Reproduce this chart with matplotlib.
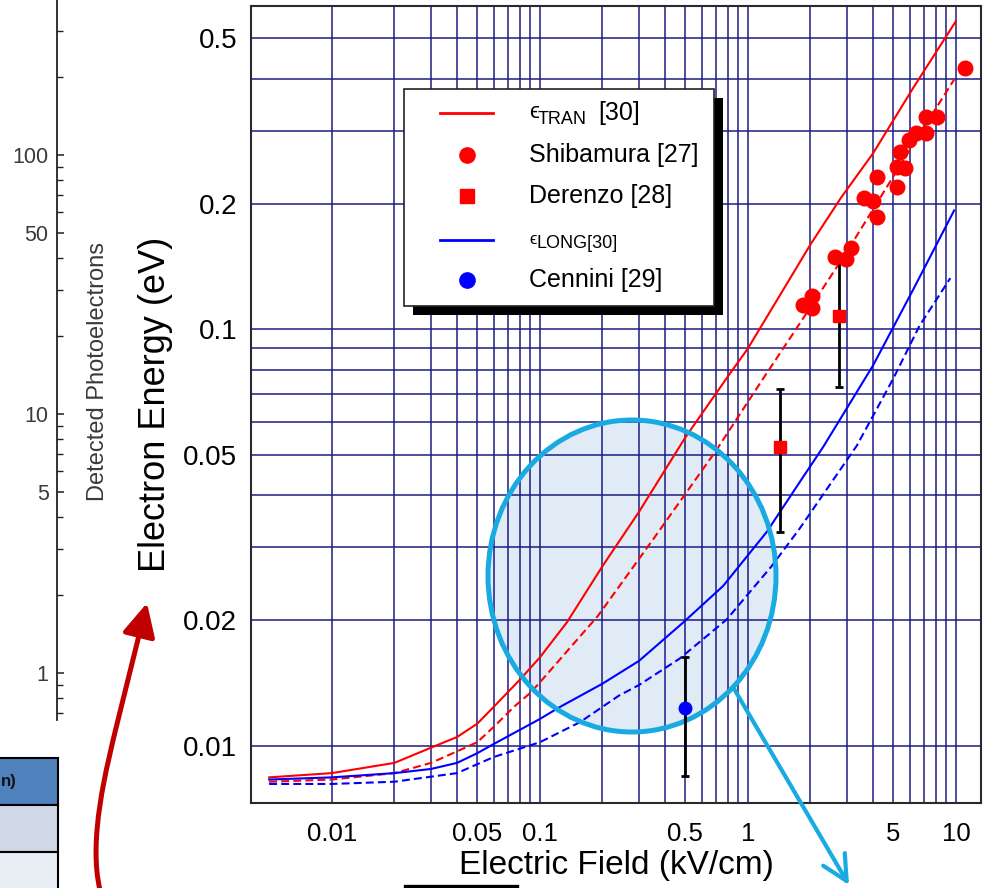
import matplotlib
matplotlib.use("Agg")
import matplotlib.pyplot as plt
from matplotlib.patches import Ellipse, Rectangle, FancyArrowPatch
from matplotlib.path import Path
from matplotlib.lines import Line2D
from matplotlib.ticker import FixedLocator, FixedFormatter, NullFormatter

plt.rcParams['font.family'] = ['Liberation Sans', 'DejaVu Sans']

# --- mean electron energy vs drift field -----------------------------------
# transverse energy, solid and dashed model curves
tran_field = [0.005, 0.01, 0.02, 0.03, 0.04, 0.05, 0.06, 0.08, 0.1, 0.135,
              0.2, 0.3, 0.5, 0.8, 1.0, 2.0, 2.8, 4.0, 6.25, 10.0]
tran_energy = [0.0084, 0.0086, 0.0091, 0.0099, 0.0105, 0.0113, 0.0124, 0.0144,
               0.0163, 0.0198, 0.027, 0.0365, 0.055, 0.077, 0.09, 0.16, 0.207,
               0.265, 0.381, 0.55]

tran_alt_field = [0.005, 0.01, 0.02, 0.03, 0.04, 0.05, 0.06, 0.075, 0.09, 0.1,
                  0.19, 0.35, 0.7, 1.18, 1.7, 3.0, 6.25, 9.8]
tran_alt_energy = [0.0082, 0.0083, 0.0086, 0.0091, 0.0097, 0.0102, 0.0111,
                   0.0124, 0.0134, 0.0142, 0.0205, 0.0313, 0.051, 0.076, 0.1,
                   0.154, 0.279, 0.398]

# longitudinal energy, solid and dashed model curves
long_field = [0.005, 0.01, 0.02, 0.03, 0.04, 0.05, 0.06, 0.1, 0.125, 0.2, 0.3,
              0.49, 0.76, 1.23, 1.77, 2.3, 4.0, 6.25, 9.8]
long_energy = [0.0083, 0.0084, 0.0086, 0.0088, 0.0091, 0.0096, 0.0101, 0.0116,
               0.0124, 0.0141, 0.016, 0.0198, 0.0242, 0.0326, 0.0429, 0.0522,
               0.082, 0.125, 0.193]

long_alt_field = [0.005, 0.01, 0.02, 0.04, 0.06, 0.1, 0.156, 0.24, 0.3, 0.47,
                  0.79, 1.3, 1.77, 3.34, 5.0, 6.7, 9.4]
long_alt_energy = [0.0081, 0.0081, 0.0082, 0.0086, 0.0094, 0.0102, 0.0114,
                   0.0132, 0.014, 0.0162, 0.0201, 0.027, 0.0332, 0.0526, 0.0762,
                   0.1023, 0.1328]

# measurements
shib_field = [1.84, 2.03, 2.03, 2.62, 2.95, 3.12, 3.62, 4.0, 4.18, 4.18, 5.19,
              5.19, 5.38, 5.67, 5.97, 6.44, 7.2, 7.2, 8.09, 11.0]
shib_energy = [0.1146, 0.1202, 0.1125, 0.1496, 0.148, 0.1565, 0.207, 0.2034,
               0.2328, 0.186, 0.2457, 0.22, 0.2673, 0.244, 0.2852, 0.2958,
               0.2958, 0.3245, 0.3245, 0.424]

derenzo_field = [1.42, 2.75]
derenzo_energy = [0.0522, 0.1075]
derenzo_low = [0.0326, 0.0727]
derenzo_high = [0.0718, 0.146]

cennini_field = [0.5]
cennini_energy = [0.0123]
cennini_low = [0.00847]
cennini_high = [0.0163]

# axis ticks
x_ticks = [0.01, 0.05, 0.1, 0.5, 1, 5, 10]
x_labels = ['0.01', '0.05', '0.1', '0.5', '1', '5', '10']
y_ticks = [0.01, 0.02, 0.05, 0.1, 0.2, 0.5]
y_labels = ['0.01', '0.02', '0.05', '0.1', '0.2', '0.5']

photo_ticks = [1, 5, 10, 50, 100]
photo_labels = ['1', '5', '10', '50', '100']

GRID = '#1c1c84'
RED = '#ff0000'
BLUE = '#0000ff'
CYAN = '#19aae2'


def px(x, y):
    """image pixel (from top-left) -> inches for fig.dpi_scale_trans"""
    return x / 100.0, (888 - y) / 100.0


fig = plt.figure(figsize=(9.9, 8.88), dpi=100)
inch = fig.dpi_scale_trans

# ---------------------------------------------------------------------------
# main log-log panel
ax = fig.add_axes([251 / 990, 85 / 888, 730 / 990, 797 / 888])
ax.set_xscale('log')
ax.set_yscale('log')
ax.set_xlim(0.00409, 13.2)
ax.set_ylim(0.00729, 0.598)

grid_x = [k * 10.0 ** n for n in (-2, -1, 0) for k in range(1, 10)] + [10]
grid_y = [k * 10.0 ** n for n in (-2,) for k in range(1, 10)] + \
         [k * 0.1 for k in range(1, 6)]
ax.xaxis.set_major_locator(FixedLocator(x_ticks))
ax.xaxis.set_major_formatter(FixedFormatter(x_labels))
ax.xaxis.set_minor_locator(FixedLocator(grid_x))
ax.xaxis.set_minor_formatter(NullFormatter())
ax.yaxis.set_major_locator(FixedLocator(y_ticks))
ax.yaxis.set_major_formatter(FixedFormatter(y_labels))
ax.yaxis.set_minor_locator(FixedLocator(grid_y))
ax.yaxis.set_minor_formatter(NullFormatter())
ax.tick_params(which='both', length=0)
ax.tick_params(axis='x', labelsize=18.5, pad=13.5)
ax.tick_params(axis='y', labelsize=20, pad=10)
ax.set_axisbelow(True)
ax.grid(which='both', color=GRID, lw=1.1)
for sp in ax.spines.values():
    sp.set_color('#2a2a2a')
    sp.set_linewidth(1.5)

ax.set_xlabel('Electric Field (kV/cm)', fontsize=24, va='center')
ax.xaxis.set_label_coords(0.5, -0.079)
ax.set_ylabel('Electron Energy (eV)', fontsize=26, va='center')
ax.yaxis.set_label_coords(-0.1315, 0.5)

# highlighted low-field region
ax.add_patch(Ellipse(px(632, 576), 2.88, 3.12, transform=inch,
                     facecolor='#e0ebf6', edgecolor='none', zorder=0.3))

dash = (0, (3.8, 2.0))
ax.plot(tran_field, tran_energy, color=RED, lw=1.5, zorder=2)
ax.plot(tran_alt_field, tran_alt_energy, color=RED, lw=1.5, ls=dash, zorder=2)
ax.plot(long_field, long_energy, color=BLUE, lw=1.5, zorder=2)
ax.plot(long_alt_field, long_alt_energy, color=BLUE, lw=1.5, ls=dash, zorder=2)

ax.add_patch(Ellipse(px(632, 576), 2.88, 3.12, transform=inch,
                     facecolor='none', edgecolor=CYAN, lw=3.6, zorder=3))


def yerr(vals, lo, hi):
    return [[v - l for v, l in zip(vals, lo)], [h - v for v, h in zip(vals, hi)]]


ax.errorbar(derenzo_field, derenzo_energy,
            yerr=yerr(derenzo_energy, derenzo_low, derenzo_high),
            fmt='none', ecolor='black', elinewidth=2, capsize=3, capthick=2,
            zorder=4)
ax.errorbar(cennini_field, cennini_energy,
            yerr=yerr(cennini_energy, cennini_low, cennini_high),
            fmt='none', ecolor='black', elinewidth=2, capsize=3, capthick=2,
            zorder=4)
ax.plot(shib_field, shib_energy, 'o', color=RED, ms=10.5, ls='none', zorder=5,
        clip_on=False)
ax.plot(derenzo_field, derenzo_energy, 's', color=RED, ms=9, ls='none', zorder=5)
ax.plot(cennini_field, cennini_energy, 'o', color=BLUE, ms=9, ls='none', zorder=5)


# legend box with heavy drop shadow, drawn by hand
def ax_pt(x, y):
    return (x - 251) / 730, (803 - y) / 797


def draw_legend(ax):
    t = ax.transAxes
    x0, y0 = ax_pt(404, 306)
    x1, y1 = ax_pt(714, 89)
    sx, sy = ax_pt(413, 315)
    ax.add_patch(Rectangle((sx, sy), x1 - x0, y1 - y0, transform=t,
                           facecolor='black', edgecolor='none', zorder=6))
    ax.add_patch(Rectangle((x0, y0), x1 - x0, y1 - y0, transform=t,
                           facecolor='white', edgecolor='#222222', lw=1.2,
                           zorder=7))
    hx0, _ = ax_pt(440, 0)
    hx1, _ = ax_pt(493, 0)
    mx, _ = ax_pt(467, 0)
    tx, _ = ax_pt(529, 0)
    rows = [ax_pt(0, v)[1] for v in (113, 155, 196, 240, 280)]
    kw = dict(transform=t, zorder=8, clip_on=False)

    ax.add_line(Line2D([hx0, hx1], [rows[0]] * 2, color=RED, lw=2, **kw))
    ax.add_line(Line2D([mx], [rows[1]], marker='o', ms=11, color=RED, ls='none', **kw))
    ax.add_line(Line2D([mx], [rows[2]], marker='s', ms=10.5, color=RED, ls='none', **kw))
    ax.add_line(Line2D([hx0, hx1], [rows[3]] * 2, color=BLUE, lw=2, **kw))
    ax.add_line(Line2D([mx], [rows[4]], marker='o', ms=11, color=BLUE, ls='none', **kw))

    tk = dict(transform=t, zorder=8, ha='left', va='center')
    ax.text(tx, ax_pt(0, 112)[1], '\u03f5', fontsize=16, **tk)
    ax.text(ax_pt(538, 0)[0], ax_pt(0, 119)[1], 'TRAN', fontsize=13, **tk)
    ax.text(ax_pt(598, 0)[0], rows[0], '[30]', fontsize=18, **tk)
    ax.text(tx, rows[1], 'Shibamura [27]', fontsize=18, **tk)
    ax.text(tx, rows[2], 'Derenzo [28]', fontsize=18, **tk)
    ax.text(tx, ax_pt(0, 239)[1], '\u03f5', fontsize=12, **tk)
    ax.text(ax_pt(537, 0)[0], ax_pt(0, 244)[1], 'LONG[30]', fontsize=13, **tk)
    ax.text(tx, rows[4], 'Cennini [29]', fontsize=18, **tk)


draw_legend(ax)

# ---------------------------------------------------------------------------
# neighbouring photoelectron axis on the left
ax2 = fig.add_axes([57 / 990, 168 / 888, 0.001, 720 / 888])
ax2.set_yscale('log')
ax2.set_ylim(0.659, 396)
ax2.set_xticks([])
ax2.patch.set_visible(False)
for name in ('top', 'bottom', 'right'):
    ax2.spines[name].set_visible(False)
ax2.spines['left'].set_linewidth(1.3)
ax2.spines['left'].set_color('#222222')
ax2.yaxis.set_major_locator(FixedLocator(photo_ticks))
ax2.yaxis.set_major_formatter(FixedFormatter(photo_labels))
ax2.yaxis.set_minor_formatter(NullFormatter())
ax2.tick_params(axis='y', which='major', direction='in', length=5, width=1.1,
                labelsize=15.5, labelcolor='#3a3a3a', pad=6, color='#222222')
ax2.tick_params(axis='y', which='minor', direction='in', length=4, width=1.0,
                color='#222222')
fig.text(*px(98, 371), 'Detected Photoelectrons', transform=inch, rotation=90,
         ha='center', va='center', fontsize=17, color='#3a3a3a')

# table corner at the bottom left
cells = [(758, 805, '#4f81bd'), (805, 852, '#d0d8e8'), (852, 900, '#e9edf4')]
for top, bottom, colour in cells:
    x, y = px(-5, bottom)
    fig.add_artist(Rectangle((x, y), 0.63, (bottom - top) / 100, transform=inch,
                             facecolor=colour, edgecolor='black', lw=1.5))
fig.text(*px(1, 781), 'n)', transform=inch, ha='left', va='center',
         fontsize=12, fontweight='bold', color='#111111')

# annotation arrows
red_path = Path([px(100, 890), px(88, 840), px(106, 769), px(118, 720),
                 px(147, 603)],
                [Path.MOVETO, Path.CURVE4, Path.CURVE4, Path.CURVE4, Path.LINETO])
fig.add_artist(FancyArrowPatch(path=red_path, transform=inch,
                               arrowstyle='-|>,head_length=1.0,head_width=0.5',
                               mutation_scale=20, color='#c00000', lw=3.6))
fig.add_artist(FancyArrowPatch(px(733, 687), px(849, 885), transform=inch,
                               arrowstyle='->,head_length=0.9,head_width=0.45',
                               mutation_scale=20, color=CYAN, lw=3,
                               shrinkA=0, shrinkB=0))
fig.add_artist(Line2D([4.05, 5.17], [0.02, 0.02], transform=inch,
                      color='black', lw=2.4))

fig.savefig('out.png', dpi=100)
